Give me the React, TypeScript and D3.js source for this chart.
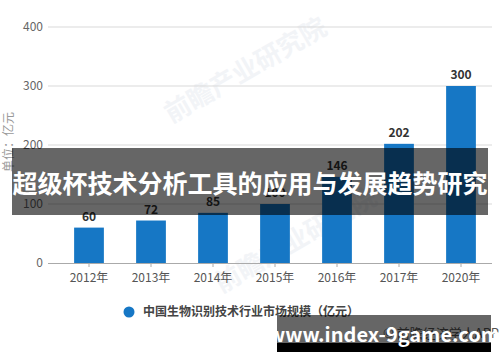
import React, { useEffect, useRef } from "react";
import * as d3 from "d3";

const years = ["2012年", "2013年", "2014年", "2015年", "2016年", "2017年", "2020年"];
const marketSize = [60, 72, 85, 100, 146, 202, 300];
const yTicks = [0, 100, 200, 300, 400];
const seriesName = "中国生物识别技术行业市场规模（亿元）";
const unitLabel = "单位：亿元";
const bannerTitle = "超级杯技术分析工具的应用与发展趋势研究";
const siteText = "www.index-9game.com";
const sourceText = "© 前瞻经济学人APP";

const FONT = "'Noto Sans CJK SC', 'Noto Sans', sans-serif";

export default function App() {
  const ref = useRef<SVGSVGElement | null>(null);

  useEffect(() => {
    const node = ref.current;
    if (!node) return;
    while (node.firstChild) node.removeChild(node.firstChild);

    const svg = d3.select(node);
    const left = 48;
    const right = 492;

    const x = d3.scaleBand<string>().domain(years).range([58, 492]).paddingInner(0.52).paddingOuter(0.26);
    const y = d3.scaleLinear().domain([0, 400]).range([263, 27]);

    // faint watermarks
    const wm = [
      { x: 250, y: 78 },
      { x: 300, y: 248 },
    ];
    wm.forEach((p) => {
      svg
        .append("text")
        .attr("transform", `translate(${p.x},${p.y}) rotate(-30)`)
        .attr("text-anchor", "middle")
        .style("font-family", FONT)
        .style("font-size", "26px")
        .style("font-weight", "bold")
        .attr("fill", "#f2f4f7")
        .text("前瞻产业研究院");
    });

    // gridlines
    svg
      .append("g")
      .selectAll("line")
      .data(yTicks.filter((t) => t > 0))
      .join("line")
      .attr("x1", left)
      .attr("x2", right)
      .attr("y1", (d) => y(d))
      .attr("y2", (d) => y(d))
      .attr("stroke", "#d9d9d9");

    // y labels
    svg
      .append("g")
      .selectAll("text")
      .data(yTicks)
      .join("text")
      .attr("x", 43)
      .attr("y", (d) => y(d))
      .attr("dy", "0.35em")
      .attr("text-anchor", "end")
      .style("font-family", FONT)
      .style("font-size", "12px")
      .attr("fill", "#666")
      .text((d) => d);

    // unit label
    svg
      .append("text")
      .attr("transform", `translate(13,142) rotate(-90)`)
      .attr("text-anchor", "middle")
      .style("font-family", FONT)
      .style("font-size", "12px")
      .attr("fill", "#999")
      .text(unitLabel);

    // bars
    svg
      .append("g")
      .selectAll("rect")
      .data(marketSize)
      .join("rect")
      .attr("x", (d, i) => x(years[i]) as number)
      .attr("y", (d) => y(d))
      .attr("width", x.bandwidth())
      .attr("height", (d) => y(0) - y(d))
      .attr("fill", "#1677c5");

    // value labels
    svg
      .append("g")
      .selectAll("text")
      .data(marketSize)
      .join("text")
      .attr("x", (d, i) => (x(years[i]) as number) + x.bandwidth() / 2)
      .attr("y", (d) => y(d) - 7)
      .attr("text-anchor", "middle")
      .style("font-family", FONT)
      .style("font-size", "12px")
      .style("font-weight", "bold")
      .attr("fill", "#333")
      .text((d) => d);

    // x axis
    const xAxis = svg
      .append("g")
      .attr("transform", `translate(0,${y(0)})`)
      .call(d3.axisBottom(x).tickSize(4).tickSizeOuter(0));
    xAxis.select(".domain").remove();
    xAxis.selectAll("line").attr("stroke", "#aaa");
    xAxis
      .selectAll("text")
      .attr("y", 10)
      .attr("dy", "0.71em")
      .style("font-family", FONT)
      .style("font-size", "12px")
      .attr("fill", "#555");
    svg
      .append("line")
      .attr("x1", left)
      .attr("x2", right)
      .attr("y1", y(0) + 0.5)
      .attr("y2", y(0) + 0.5)
      .attr("stroke", "#aaa");

    // legend
    svg.append("circle").attr("cx", 129).attr("cy", 312).attr("r", 5.5).attr("fill", "#1677c5");
    svg
      .append("text")
      .attr("x", 143)
      .attr("y", 312)
      .attr("dy", "0.35em")
      .style("font-family", FONT)
      .style("font-size", "12px")
      .style("font-weight", "bold")
      .attr("fill", "#444")
      .text(seriesName);

    // source
    svg
      .append("text")
      .attr("x", 383)
      .attr("y", 333)
      .attr("dy", "0.35em")
      .style("font-family", FONT)
      .style("font-size", "13px")
      .attr("fill", "#555")
      .text(sourceText);

    // title banner overlay
    svg
      .append("rect")
      .attr("x", 12)
      .attr("y", 148)
      .attr("width", 476)
      .attr("height", 67)
      .attr("fill", "#000")
      .attr("fill-opacity", 0.6);
    svg
      .append("text")
      .attr("x", 250)
      .attr("y", 193)
      .attr("text-anchor", "middle")
      .style("font-family", FONT)
      .style("font-size", "25px")
      .style("font-weight", "bold")
      .attr("fill", "#fff")
      .text(bannerTitle);

    // site banner overlay
    svg
      .append("rect")
      .attr("x", 277)
      .attr("y", 315)
      .attr("width", 214)
      .attr("height", 28)
      .attr("fill", "#000")
      .attr("fill-opacity", 0.6);
    svg.append("rect").attr("x", 277).attr("y", 343).attr("width", 214).attr("height", 9).attr("fill", "#000");
    svg
      .append("text")
      .attr("x", 384)
      .attr("y", 342)
      .attr("text-anchor", "middle")
      .style("font-family", FONT)
      .style("font-size", "20px")
      .style("font-weight", "bold")
      .attr("fill", "#fff")
      .text(siteText);
  }, []);

  return (
    <svg
      ref={ref}
      width={500}
      height={362}
      style={{ position: "absolute", left: 0, top: 0, background: "#fff" }}
    />
  );
}
